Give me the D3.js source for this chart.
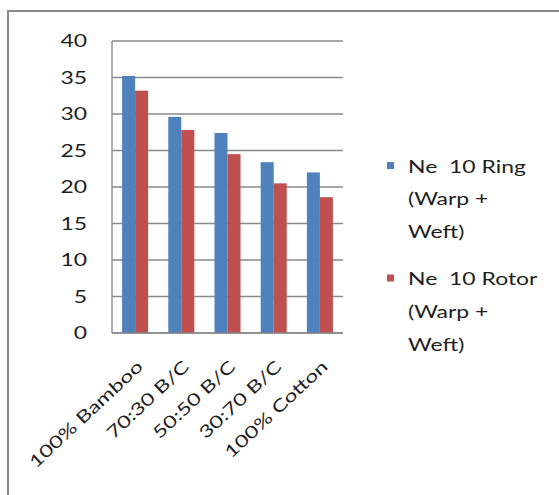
<!DOCTYPE html>
<html>
<head>
<meta charset="utf-8">
<script src="https://cdn.jsdelivr.net/npm/d3@7"></script>
<style>
  html, body { margin: 0; padding: 0; background: #fff; }
  svg { display: block; }
  text { font-family: Lato, "Open Sans", sans-serif; fill: #1e1e1e; }
</style>
</head>
<body>
<svg id="chart" width="559" height="495"></svg>
<script>
const categories = ["100% Bamboo", "70:30 B/C", "50:50 B/C", "30:70 B/C", "100% Cotton"];
const seriesNames = ["Ne 10 Ring (Warp + Weft)", "Ne 10 Rotor (Warp + Weft)"];
const legendLines = [["Ne  10 Ring", "(Warp +", "Weft)"], ["Ne  10 Rotor", "(Warp +", "Weft)"]];
const ringValues = [35.2, 29.6, 27.4, 23.4, 22.0];
const rotorValues = [33.2, 27.8, 24.5, 20.5, 18.6];
const yTicks = [0, 5, 10, 15, 20, 25, 30, 35, 40];
const colors = ["#4F81BD", "#C0504D"];

const SX = 1.35;      // horizontal stretch of the text as it appears in the picture
const FS = 17;

const svg = d3.select("#chart");

// chart frame (only top and left visible in picture)
svg.append("rect").attr("x", 8).attr("y", 11).attr("width", 700).attr("height", 700)
  .attr("fill", "none").attr("stroke", "#8a8a8a").attr("stroke-width", 2);

const plot = { left: 112, right: 343, top: 41, bottom: 333 };

const y = d3.scaleLinear().domain([0, 40]).range([plot.bottom, plot.top]);
const x0 = d3.scaleBand().domain(categories).range([plot.left, plot.right])
  .paddingInner(0.437).paddingOuter(0.2185);
const x1 = d3.scaleBand().domain([0, 1]).range([0, x0.bandwidth()]);

// gridlines
svg.append("g").selectAll("line").data(yTicks).join("line")
  .attr("x1", plot.left).attr("x2", plot.right)
  .attr("y1", d => y(d)).attr("y2", d => y(d))
  .attr("stroke", "#8a8a8a").attr("stroke-width", 1.4);

// y tick labels
svg.append("g").selectAll("text").data(yTicks).join("text")
  .attr("transform", d => `translate(87,${y(d)}) scale(${SX},1)`)
  .attr("text-anchor", "end").attr("dy", "0.36em")
  .style("font-size", FS + "px")
  .text(d => d);

// bars
const data = categories.map((c, i) => ({ c, vals: [ringValues[i], rotorValues[i]] }));
const groups = svg.append("g").selectAll("g").data(data).join("g")
  .attr("transform", d => `translate(${x0(d.c)},0)`);
groups.selectAll("rect").data(d => d.vals.map((v, k) => ({ v, k }))).join("rect")
  .attr("x", d => x1(d.k)).attr("width", x1.bandwidth())
  .attr("y", d => y(d.v)).attr("height", d => y(0) - y(d.v))
  .attr("fill", d => colors[d.k]);

// axes lines
svg.append("line").attr("x1", plot.left).attr("x2", plot.left)
  .attr("y1", plot.top).attr("y2", plot.bottom)
  .attr("stroke", "#8a8a8a").attr("stroke-width", 1.4);
svg.append("line").attr("x1", plot.left).attr("x2", plot.right)
  .attr("y1", plot.bottom).attr("y2", plot.bottom)
  .attr("stroke", "#8a8a8a").attr("stroke-width", 1.4);

// x labels
svg.append("g").selectAll("text").data(categories).join("text")
  .attr("transform", d => `translate(${x0(d) + x0.bandwidth() / 2 + 9},${plot.bottom + 35}) rotate(-43) scale(${SX},1)`)
  .attr("text-anchor", "end")
  .style("font-size", FS + "px")
  .text(d => d);

// legend
const legend = svg.append("g");
const entryY = [172.5, 285];
legendLines.forEach((lines, k) => {
  legend.append("rect").attr("x", 387).attr("y", entryY[k] - 10.5)
    .attr("width", 7).attr("height", 7).attr("fill", colors[k]);
  lines.forEach((t, j) => {
    legend.append("text")
      .attr("transform", `translate(408,${entryY[k] + j * 32.8}) scale(${SX},1)`)
      .style("font-size", FS + "px")
      .style("white-space", "pre")
      .text(t);
  });
});
</script>
</body>
</html>
